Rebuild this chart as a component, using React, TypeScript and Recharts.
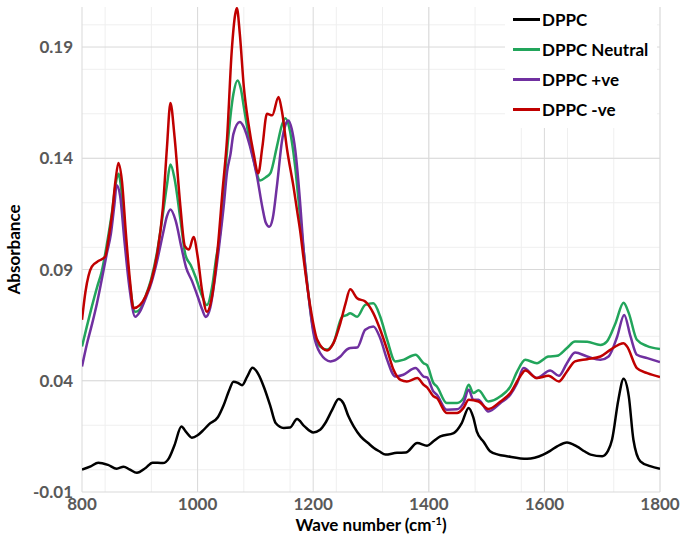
import { LineChart, Line, XAxis, YAxis, CartesianGrid, Legend } from "recharts";

const FONT = "Lato, 'Open Sans', sans-serif";

// wave numbers (cm-1) and absorbance
const dppcX = [800, 815, 828, 845, 860, 872, 882, 895, 910, 922, 940, 950, 960, 972, 980, 990, 1000, 1008, 1020, 1035, 1045, 1055, 1062, 1070, 1077, 1086, 1095, 1105, 1115, 1126, 1135, 1149, 1160, 1172, 1185, 1200, 1212, 1221, 1233, 1244, 1252, 1261, 1270, 1282, 1295, 1305, 1315, 1325, 1345, 1360, 1380, 1397, 1408, 1420, 1443, 1457, 1469, 1477, 1483, 1495, 1506, 1520, 1535, 1570, 1598, 1610, 1622, 1639, 1656, 1670, 1680, 1700, 1710, 1717, 1728, 1737, 1746, 1754, 1766, 1783, 1800];
const dppcY = [0.0001, 0.0015, 0.0032, 0.0022, 0.0005, 0.0014, 0.0002, -0.0014, 0.0008, 0.0032, 0.003, 0.005, 0.011, 0.0194, 0.017, 0.0144, 0.0155, 0.0173, 0.0205, 0.0236, 0.029, 0.036, 0.0396, 0.039, 0.038, 0.042, 0.0458, 0.043, 0.037, 0.0285, 0.021, 0.0188, 0.019, 0.0228, 0.0195, 0.0168, 0.018, 0.021, 0.027, 0.0318, 0.03, 0.024, 0.0195, 0.015, 0.012, 0.0098, 0.0082, 0.0068, 0.0076, 0.0077, 0.012, 0.0108, 0.0128, 0.015, 0.0165, 0.021, 0.0278, 0.0235, 0.0173, 0.0125, 0.0083, 0.0068, 0.0061, 0.0049, 0.0068, 0.0085, 0.0105, 0.0123, 0.0105, 0.0082, 0.0068, 0.0061, 0.0085, 0.0135, 0.0315, 0.0409, 0.033, 0.0135, 0.0038, 0.0016, 0.0004];

const neutralX = [800, 808, 817, 826, 834, 846, 852, 858, 863, 868, 875, 883, 892, 900, 910, 920, 930, 940, 947, 953, 960, 970, 979, 988, 996, 1008, 1016, 1025, 1032, 1039, 1045, 1051, 1062, 1069, 1075, 1080, 1091, 1100, 1108, 1118, 1126, 1137, 1146, 1152, 1160, 1168, 1178, 1187, 1197, 1205, 1212, 1224, 1235, 1250, 1258, 1264, 1276, 1290, 1304, 1316, 1328, 1342, 1356, 1377, 1391, 1397, 1408, 1414, 1431, 1449, 1460, 1469, 1477, 1486, 1503, 1524, 1541, 1553, 1567, 1587, 1607, 1622, 1639, 1653, 1674, 1697, 1708, 1723, 1737, 1746, 1760, 1777, 1800];
const neutralY = [0.0554, 0.064, 0.0733, 0.082, 0.089, 0.106, 0.116, 0.128, 0.1331, 0.126, 0.104, 0.083, 0.071, 0.072, 0.078, 0.086, 0.098, 0.115, 0.128, 0.1372, 0.131, 0.113, 0.0965, 0.092, 0.087, 0.078, 0.074, 0.082, 0.095, 0.1062, 0.125, 0.1436, 0.169, 0.175, 0.171, 0.163, 0.1466, 0.136, 0.13, 0.1315, 0.1333, 0.145, 0.155, 0.158, 0.152, 0.138, 0.112, 0.09, 0.068, 0.058, 0.0554, 0.054, 0.0569, 0.0688, 0.0695, 0.0704, 0.0688, 0.0741, 0.0748, 0.0688, 0.0584, 0.0487, 0.0494, 0.0517, 0.0479, 0.047, 0.039, 0.0374, 0.03, 0.03, 0.0322, 0.0382, 0.0345, 0.0357, 0.0307, 0.033, 0.0374, 0.0442, 0.0494, 0.0479, 0.0509, 0.0512, 0.0547, 0.0576, 0.0575, 0.0561, 0.0576, 0.0659, 0.0751, 0.0704, 0.0584, 0.0557, 0.0543];

const posX = [800, 808, 817, 826, 834, 843, 850, 856, 860, 866, 873, 882, 892, 900, 910, 920, 930, 940, 947, 953, 962, 972, 980, 990, 1000, 1008, 1014, 1022, 1030, 1037, 1045, 1051, 1057, 1062, 1073, 1080, 1091, 1103, 1112, 1118, 1124, 1130, 1137, 1146, 1152, 1157, 1163, 1169, 1178, 1183, 1192, 1200, 1212, 1230, 1247, 1258, 1264, 1276, 1290, 1304, 1316, 1328, 1342, 1356, 1377, 1391, 1397, 1408, 1414, 1431, 1449, 1460, 1469, 1477, 1486, 1503, 1524, 1541, 1553, 1564, 1587, 1610, 1625, 1639, 1653, 1674, 1697, 1711, 1726, 1738, 1749, 1760, 1778, 1800];
const posY = [0.0464, 0.056, 0.0651, 0.075, 0.0853, 0.0973, 0.106, 0.119, 0.1279, 0.123, 0.104, 0.082, 0.0688, 0.071, 0.077, 0.084, 0.094, 0.106, 0.114, 0.117, 0.112, 0.1, 0.091, 0.085, 0.078, 0.072, 0.0687, 0.073, 0.086, 0.1, 0.118, 0.134, 0.142, 0.151, 0.1563, 0.154, 0.145, 0.1316, 0.118, 0.111, 0.1092, 0.113, 0.127, 0.1478, 0.155, 0.157, 0.153, 0.1436, 0.118, 0.1002, 0.078, 0.062, 0.0524, 0.0487, 0.0509, 0.054, 0.0547, 0.0549, 0.0629, 0.0644, 0.0591, 0.0494, 0.0419, 0.0427, 0.0457, 0.0419, 0.0415, 0.0352, 0.0337, 0.027, 0.0272, 0.03, 0.036, 0.0315, 0.0315, 0.0262, 0.03, 0.0337, 0.039, 0.0457, 0.0412, 0.0446, 0.0422, 0.0479, 0.0527, 0.0509, 0.0494, 0.0509, 0.0599, 0.0696, 0.0599, 0.0517, 0.0502, 0.0484];

const negX = [800, 806, 817, 829, 840, 846, 852, 858, 863, 869, 876, 883, 889, 900, 910, 920, 930, 940, 947, 953, 960, 970, 978, 985, 993, 1000, 1008, 1016, 1025, 1035, 1043, 1051, 1059, 1065, 1068, 1073, 1080, 1088, 1097, 1105, 1112, 1120, 1129, 1140, 1146, 1155, 1166, 1172, 1178, 1183, 1195, 1207, 1224, 1235, 1247, 1256, 1264, 1276, 1290, 1304, 1316, 1328, 1339, 1351, 1362, 1380, 1391, 1397, 1408, 1414, 1431, 1449, 1460, 1469, 1486, 1503, 1524, 1541, 1558, 1567, 1587, 1607, 1625, 1639, 1653, 1674, 1697, 1714, 1728, 1737, 1743, 1760, 1778, 1800];
const negY = [0.0674, 0.08, 0.0913, 0.0939, 0.0957, 0.104, 0.115, 0.13, 0.1379, 0.13, 0.106, 0.085, 0.0726, 0.074, 0.078, 0.085, 0.097, 0.118, 0.145, 0.1648, 0.15, 0.119, 0.1005, 0.099, 0.1046, 0.096, 0.08, 0.071, 0.078, 0.1, 0.125, 0.149, 0.188, 0.2046, 0.2075, 0.196, 0.172, 0.1555, 0.142, 0.1333, 0.145, 0.16, 0.1593, 0.1675, 0.161, 0.1436, 0.1271, 0.1167, 0.1063, 0.0957, 0.0733, 0.0584, 0.0536, 0.0569, 0.0659, 0.0748, 0.0811, 0.0771, 0.0756, 0.0704, 0.0629, 0.0539, 0.0449, 0.0404, 0.0397, 0.0412, 0.0382, 0.037, 0.033, 0.0322, 0.0255, 0.0255, 0.0278, 0.0315, 0.0307, 0.0273, 0.0307, 0.0345, 0.0419, 0.0446, 0.0412, 0.0422, 0.0397, 0.0442, 0.0487, 0.0497, 0.0509, 0.0539, 0.0561, 0.0569, 0.0554, 0.0457, 0.0434, 0.0417];

const xTicks = [800, 1000, 1200, 1400, 1600, 1800];
const yTicks = [-0.01, 0.04, 0.09, 0.14, 0.19];
const xMinor = Array.from({ length: 26 }, (_, i) => 800 + i * 40);
const yMinor = Array.from({ length: 22 }, (_, i) => -0.01 + i * 0.01);

const toPoints = (xs: number[], ys: number[]) => xs.map((x, i) => ({ x, y: ys[i] }));

const SERIES = [
  { name: "DPPC", color: "#000000", data: toPoints(dppcX, dppcY) },
  { name: "DPPC Neutral", color: "#22a55b", data: toPoints(neutralX, neutralY) },
  { name: "DPPC +ve", color: "#7030a0", data: toPoints(posX, posY) },
  { name: "DPPC -ve", color: "#c00000", data: toPoints(negX, negY) },
];

function LegendBox({ payload }: any) {
  const order = SERIES.map((s) => s.name);
  const items = [...(payload || [])].sort((a, b) => order.indexOf(a.value) - order.indexOf(b.value));
  return (
    <div style={{ background: "#fff", padding: "2px 0 4px 8px", width: 144 }}>
      {items.map((p: any) => (
        <div key={p.value} style={{ display: "flex", alignItems: "center", height: 30 }}>
          <span style={{ display: "inline-block", width: 27, height: 3, background: p.color, marginRight: 2 }} />
          <span style={{ fontFamily: FONT, fontWeight: 700, fontSize: 17, color: "#000" }}>{p.value}</span>
        </div>
      ))}
    </div>
  );
}

function XTitle(props: any) {
  const vb = props.viewBox || { x: 82, y: 492, width: 578 };
  return (
    <text x={vb.x + vb.width / 2} y={vb.y + 39} textAnchor="middle" fontFamily={FONT} fontWeight={700} fontSize={17} fill="#000">
      <tspan>Wave number (cm</tspan>
      <tspan dy={-6} fontSize={11}>-1</tspan>
      <tspan dy={6}>)</tspan>
    </text>
  );
}

function YTitle(props: any) {
  const vb = props.viewBox || { x: 0, y: 7, height: 485 };
  const cx = 13;
  const cy = vb.y + vb.height / 2;
  return (
    <text x={cx} y={cy} transform={`rotate(-90, ${cx}, ${cy})`} textAnchor="middle" dominantBaseline="central" fontFamily={FONT} fontWeight={700} fontSize={17} fill="#000">
      Absorbance
    </text>
  );
}

export default function App() {
  const tick = { fontFamily: FONT, fontWeight: 700, fontSize: 17, fill: "#595959" };
  return (
    <div style={{ position: "absolute", left: 0, top: 0, background: "#fff" }}>
      <LineChart width={682} height={545} margin={{ top: 7, right: 22, left: 0, bottom: 0 }}>
        <CartesianGrid stroke="#efefef" horizontalValues={yMinor} verticalValues={xMinor} />
        <CartesianGrid stroke="#d9d9d9" horizontalValues={yTicks} verticalValues={xTicks} />
        <XAxis
          type="number"
          dataKey="x"
          domain={[800, 1800]}
          ticks={xTicks}
          allowDataOverflow
          axisLine={false}
          tickLine={false}
          tickSize={6}
          tickMargin={0}
          height={53}
          tick={tick}
          label={{ content: XTitle }}
        />
        <YAxis
          type="number"
          domain={[-0.01, 0.208]}
          ticks={yTicks}
          allowDataOverflow
          axisLine={false}
          tickLine={false}
          tickMargin={3}
          width={82}
          tick={tick}
          tickFormatter={(v: number) => v.toFixed(2)}
          label={{ content: YTitle }}
        />
        <Legend
          layout="vertical"
          align="center"
          verticalAlign="middle"
          content={<LegendBox />}
          wrapperStyle={{ top: 2, left: 505, width: 152 }}
        />
        {SERIES.map((s) => (
          <Line
            key={s.name}
            name={s.name}
            data={s.data}
            dataKey="y"
            type="monotone"
            stroke={s.color}
            strokeWidth={2.5}
            dot={false}
            activeDot={false}
            isAnimationActive={false}
          />
        ))}
      </LineChart>
    </div>
  );
}
